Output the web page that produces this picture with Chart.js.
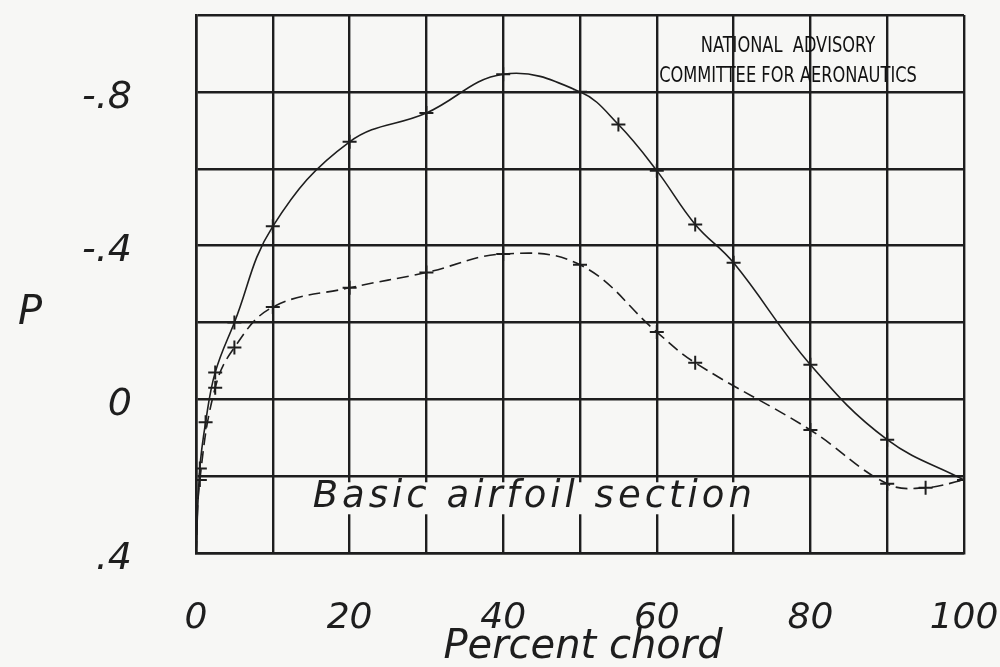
<!DOCTYPE html>
<html>
<head>
<meta charset="utf-8">
<script src="https://cdn.jsdelivr.net/npm/chart.js@4/dist/chart.umd.min.js"></script>
<style>
  html, body { margin: 0; padding: 0; background: #f7f7f5; }
  #wrap { width: 1000px; height: 667px; position: relative; }
</style>
</head>
<body>
<div id="wrap"><canvas id="c"></canvas></div>
<script>
// ---- data ----
const upperChord = [0, 0.5, 1.25, 2.5, 5, 10, 20, 30, 40, 50, 55, 60, 65, 70, 80, 90, 100];
const upperP     = [0.40, 0.18, 0.06, -0.07, -0.20, -0.45, -0.67, -0.745, -0.846, -0.80, -0.715, -0.595, -0.455, -0.355, -0.09, 0.105, 0.21];

const lowerChord = [0, 0.5, 2.5, 5, 10, 20, 30, 40, 50, 60, 65, 80, 90, 95, 100];
const lowerP     = [0.40, 0.21, -0.03, -0.135, -0.24, -0.29, -0.33, -0.378, -0.35, -0.175, -0.095, 0.08, 0.22, 0.23, 0.21];

const xLabelValues = [0, 20, 40, 60, 80, 100];
const xLabelText   = ['0', '20', '40', '60', '80', '100'];
const yLabelValues = [-0.8, -0.4, 0, 0.4];
const yLabelText   = ['-.8', '-.4', '0', '.4'];

const noteLines = ['NATIONAL  ADVISORY', 'COMMITTEE FOR AERONAUTICS'];
const captionText = 'Basic airfoil section';
const yTitleText = 'P';
const xTitleText = 'Percent chord';

// ---- styling ----
const INK = '#1e1e1e';
const HAND = '"DejaVu Sans", "Liberation Sans", sans-serif';

function pts(xs, ys) { return xs.map((x, i) => ({ x: x, y: ys[i] })); }

function zeroPad(s) {
  s.paddingTop = 0; s.paddingBottom = 0; s.paddingLeft = 0; s.paddingRight = 0;
}

const decorPlugin = {
  id: 'decor',
  beforeDraw(chart) {
    const ctx = chart.ctx;
    ctx.save();
    ctx.fillStyle = '#f7f7f5';
    ctx.fillRect(0, 0, chart.width, chart.height);
    ctx.restore();
  },
  afterDatasetsDraw(chart) {
    const ctx = chart.ctx;
    const xs = chart.scales.x, ys = chart.scales.y;
    ctx.save();
    // caption inside the plot with a paper-coloured backing
    ctx.font = 'italic 300 37px ' + HAND;
    try { ctx.letterSpacing = '4px'; } catch (e) {}
    const cx = xs.getPixelForValue(15.2), cy = ys.getPixelForValue(0.255);
    const w = ctx.measureText(captionText).width;
    ctx.fillStyle = '#f7f7f5';
    ctx.fillRect(cx - 4, cy - 15, w + 4, 32);
    ctx.fillStyle = INK;
    ctx.textBaseline = 'middle';
    ctx.textAlign = 'left';
    ctx.fillText(captionText, cx, cy);
    try { ctx.letterSpacing = '0px'; } catch (e) {}

    // NACA note (condensed lettering)
    ctx.font = '21px "Liberation Sans Narrow", "DejaVu Sans Condensed", sans-serif';
    ctx.textAlign = 'center';
    ctx.fillStyle = '#111';
    ctx.save();
    ctx.translate(788, 0);
    ctx.scale(0.86, 1);
    ctx.fillText(noteLines[0], 0, 47);
    ctx.fillText(noteLines[1], 0, 77);
    ctx.restore();

    // axis titles
    ctx.font = 'italic 300 40px ' + HAND;
    ctx.fillStyle = INK;
    ctx.textAlign = 'center';
    ctx.fillText(yTitleText, 30, 314);
    ctx.fillText(xTitleText, 583, 648);
    ctx.restore();
  }
};

new Chart(document.getElementById('c'), {
  type: 'line',
  data: {
    datasets: [
      {
        label: 'Upper surface',
        data: pts(upperChord, upperP),
        borderColor: INK,
        borderWidth: 1.6,
        tension: 0.4,
        fill: false,
        pointStyle: 'cross',
        pointRadius: 7,
        pointBorderWidth: 2,
        pointBorderColor: INK
      },
      {
        label: 'Lower surface',
        data: pts(lowerChord, lowerP),
        borderColor: INK,
        borderWidth: 1.6,
        borderDash: [12, 6],
        tension: 0.4,
        fill: false,
        pointStyle: 'cross',
        pointRadius: 7,
        pointBorderWidth: 2,
        pointBorderColor: INK
      }
    ]
  },
  options: {
    responsive: true,
    maintainAspectRatio: false,
    animation: false,
    layout: { padding: { top: 15, right: 36, left: 0, bottom: 0 } },
    plugins: { legend: { display: false }, tooltip: { enabled: false } },
    scales: {
      x: {
        type: 'linear',
        min: 0, max: 100,
        ticks: {
          stepSize: 10,
          padding: 44,
          color: INK,
          font: { family: HAND, size: 36, style: 'italic', weight: 300 },
          maxRotation: 0,
          autoSkip: false,
          callback: (v) => {
            const i = xLabelValues.findIndex(t => Math.abs(t - v) < 1e-6);
            return i >= 0 ? xLabelText[i] : '';
          }
        },
        grid: { color: INK, lineWidth: 2.4, drawTicks: false },
        border: { color: INK, width: 2.6 },
        afterFit: (s) => { s.height = 114; zeroPad(s); }
      },
      y: {
        type: 'linear',
        min: -1.0, max: 0.4,
        reverse: true,
        ticks: {
          stepSize: 0.2,
          padding: 64,
          labelOffset: 6,
          color: INK,
          font: { family: HAND, size: 38, style: 'italic', weight: 300 },
          autoSkip: false,
          callback: (v) => {
            const i = yLabelValues.findIndex(t => Math.abs(t - v) < 1e-6);
            return i >= 0 ? yLabelText[i] : '';
          }
        },
        grid: { color: INK, lineWidth: 2.4, drawTicks: false },
        border: { color: INK, width: 2.6 },
        afterFit: (s) => { s.width = 196; zeroPad(s); }
      }
    }
  },
  plugins: [decorPlugin]
});
</script>
</body>
</html>
